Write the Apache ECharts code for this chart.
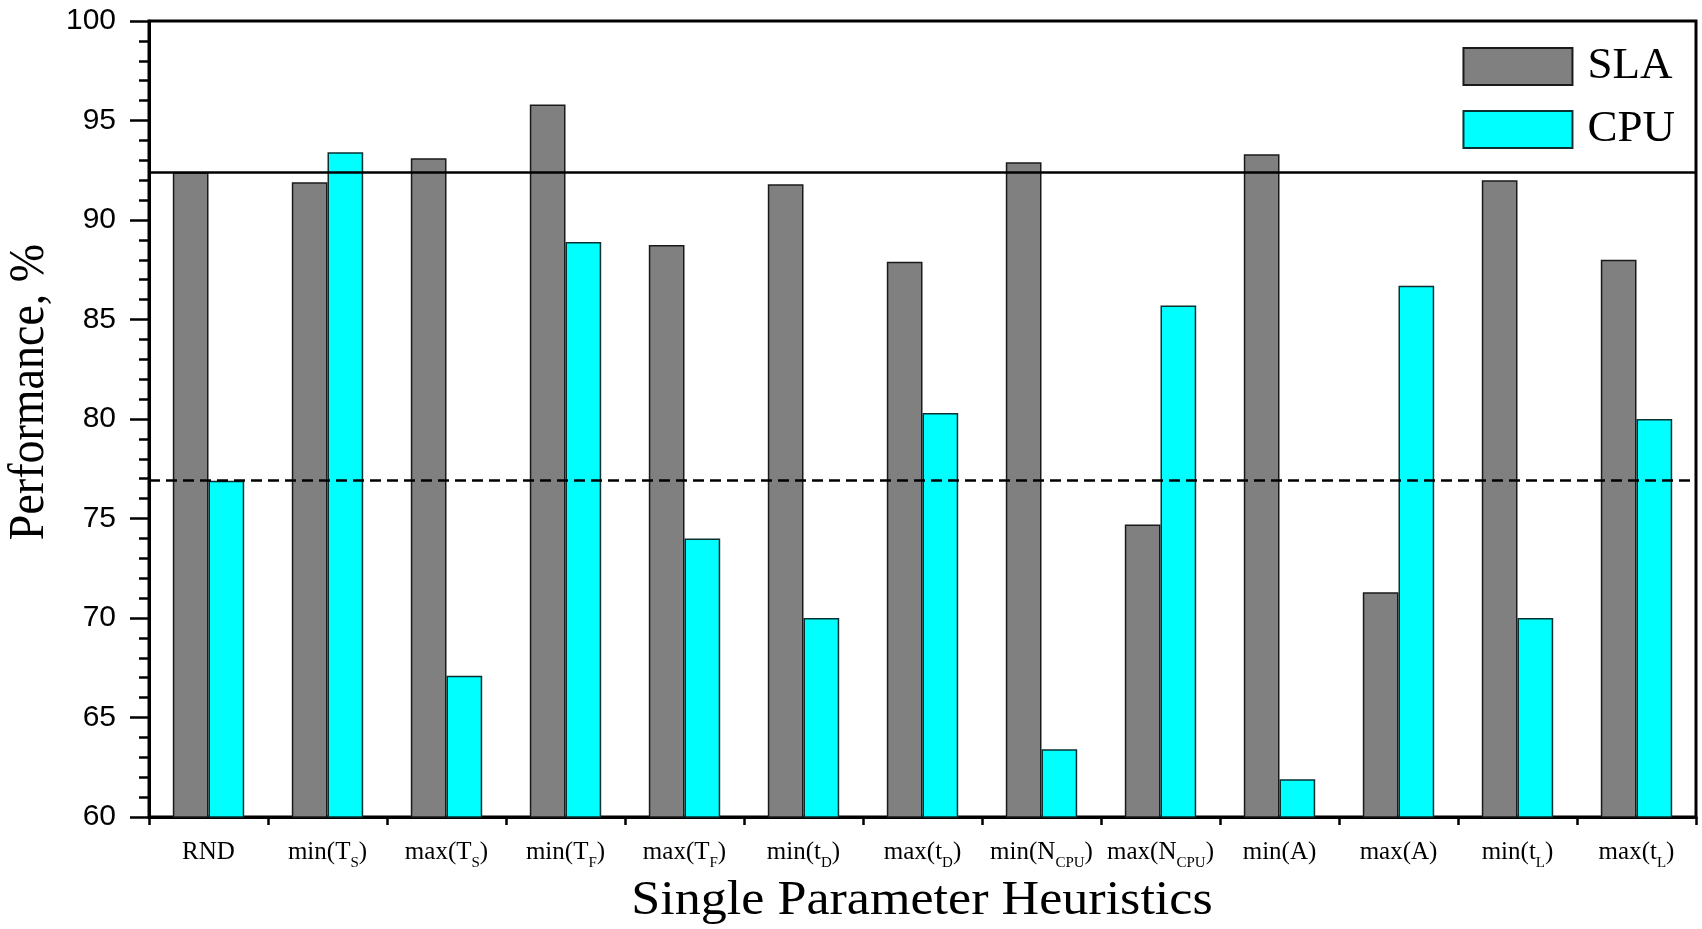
<!DOCTYPE html>
<html>
<head>
<meta charset="utf-8">
<script src="https://cdn.jsdelivr.net/npm/echarts@6/dist/echarts.min.js"></script>
<style>
html,body{margin:0;padding:0;background:#fff;}
#chart{width:1702px;height:929px;}
</style>
</head>
<body>
<div id="chart"></div>
<script>
const categories = ['RND','min(T_S)','max(T_S)','min(T_F)','max(T_F)','min(t_D)','max(t_D)','min(N_CPU)','max(N_CPU)','min(A)','max(A)','min(t_L)','max(t_L)'];
const slaValues = [92.4, 91.9, 93.1, 95.8, 88.75, 91.8, 87.9, 92.9, 74.7, 93.3, 71.3, 92.0, 88.0];
const cpuValues = [76.9, 93.4, 67.1, 88.9, 74.0, 70.0, 80.3, 63.4, 85.7, 61.9, 86.7, 70.0, 80.0];
const yTicks = [60, 65, 70, 75, 80, 85, 90, 95, 100];
const slaReference = slaValues[0];
const cpuReference = cpuValues[0];
const xTitle = 'Single Parameter Heuristics';
const yTitle = 'Performance, %';

const serif = '"Liberation Serif", "DejaVu Serif", serif';
const sans = '"Liberation Sans", Arial, sans-serif';

const chart = echarts.init(document.getElementById('chart'));
const option = {
  backgroundColor: '#fff',
  animation: false,
  grid: {left: 149, right: 6, top: 21, bottom: 112, show: true, borderColor: '#000', borderWidth: 3, containLabel: false},
  legend: {
    orient: 'vertical', right: 27, top: 44, padding: 0,
    itemWidth: 109, itemHeight: 37, itemGap: 18,
    icon: 'rect',
    textStyle: {fontFamily: serif, fontSize: 45, color: '#000', lineHeight: 37, padding: [0, 0, 0, 10]},
    data: ['SLA', 'CPU']
  },
  xAxis: [
    {
      type: 'category', position: 'bottom', data: categories,
      axisLine: {lineStyle: {color: '#000', width: 3}},
      axisTick: {alignWithLabel: true, length: 16, lineStyle: {color: '#000', width: 2.5}},
      axisLabel: {
        interval: 0, margin: 17, color: '#000', fontFamily: serif, fontSize: 25, lineHeight: 37,
        formatter: function (v) { return v.replace(/_([A-Z]+)/, '{s|$1}'); },
        rich: {s: {fontFamily: serif, fontSize: 15, lineHeight: 15, padding: [22, 0, 0, 0], color: '#000'}}
      },
      splitLine: {show: false}
    },
    {
      type: 'category', position: 'bottom', data: categories, offset: 0,
      axisLine: {show: false},
      axisTick: {show: true, length: 8, lineStyle: {color: '#000', width: 2.5}},
      axisLabel: {show: false},
      splitLine: {show: false}
    }
  ],
  yAxis: {
    type: 'value', min: yTicks[0], max: yTicks[yTicks.length - 1], interval: 5,
    axisLine: {show: true, lineStyle: {color: '#000', width: 3}},
    axisTick: {show: true, length: 19, lineStyle: {color: '#000', width: 2.5}},
    minorTick: {show: true, splitNumber: 5, length: 10, lineStyle: {color: '#000', width: 2.5}},
    axisLabel: {margin: 33, color: '#000', fontFamily: sans, fontSize: 30},
    splitLine: {show: false}
  },
  graphic: [
    {
      type: 'text', x: 30, y: 392, rotation: Math.PI / 2, scaleY: 1.085,
      style: {text: yTitle, fontFamily: serif, fontSize: 46, fill: '#000', textAlign: 'center', textVerticalAlign: 'middle'}
    },
    {
      type: 'text', x: 922, y: 901, scaleX: 1.085,
      style: {text: xTitle, fontFamily: serif, fontSize: 48, fill: '#000', textAlign: 'center', textVerticalAlign: 'middle'}
    }
  ],
  series: [
    {
      name: 'SLA', type: 'bar', xAxisIndex: 0, data: slaValues, barWidth: '30%', barGap: '0%',
      itemStyle: {color: '#808080', borderColor: '#1a1a1a', borderWidth: 1.5},
      markLine: {
        silent: true, symbol: 'none', label: {show: false},
        lineStyle: {color: '#000', width: 2.5, type: 'solid'},
        data: [{yAxis: slaReference}]
      }
    },
    {
      name: 'CPU', type: 'bar', xAxisIndex: 0, data: cpuValues, barWidth: '30%', barGap: '0%',
      itemStyle: {color: '#00ffff', borderColor: '#0a3030', borderWidth: 1.5},
      markLine: {
        silent: true, symbol: 'none', label: {show: false},
        lineStyle: {color: '#000', width: 2.5, type: [11, 6]},
        data: [{yAxis: cpuReference}]
      }
    }
  ]
};
chart.setOption(option);
</script>
</body>
</html>
